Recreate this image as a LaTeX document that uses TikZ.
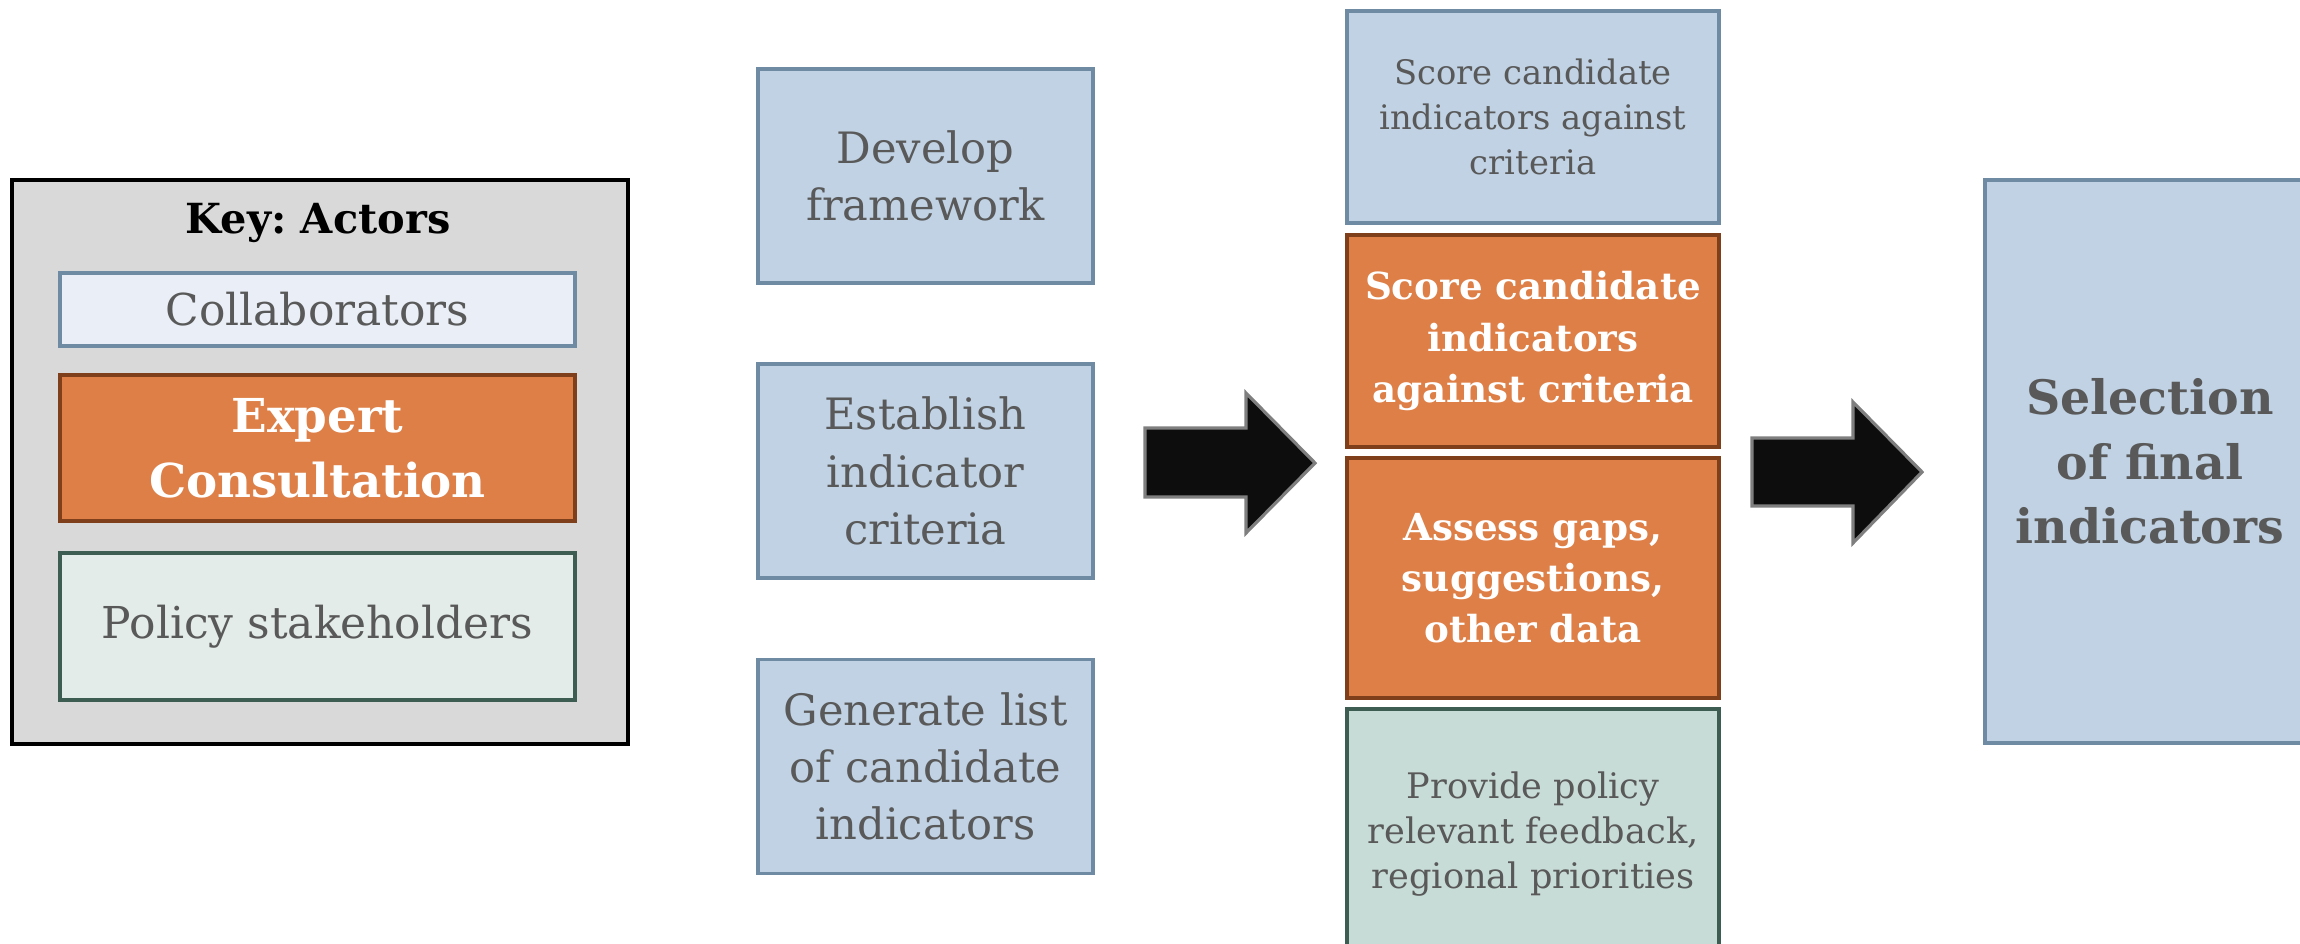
\documentclass[tikz,border=0pt]{standalone}
\usepackage{fontspec}
\setmainfont{DejaVu Serif}
\usetikzlibrary{positioning}

\definecolor{txtgray}{HTML}{595959}
\definecolor{bluefill}{HTML}{C0D2E3}
\definecolor{blueline}{HTML}{6F8BA3}
\definecolor{palefill}{HTML}{EAEFF7}
\definecolor{orangefill}{HTML}{DD7F47}
\definecolor{orangeline}{HTML}{7F3F1A}
\definecolor{greenfill}{HTML}{C8DCD7}
\definecolor{palegreen}{HTML}{E3ECE8}
\definecolor{greenline}{HTML}{3D5C52}
\definecolor{keyfill}{HTML}{D9D9D9}
\definecolor{arrowfill}{HTML}{0D0D0D}
\definecolor{arrowline}{HTML}{7F7F7F}

\begin{document}
\begin{tikzpicture}[
    box/.style={draw, line width=0.9pt, align=center, inner sep=0pt, text=txtgray},
    stepblue/.style={box, fill=bluefill, draw=blueline, minimum width=3.35cm, minimum height=2.14cm,
        font=\fontsize{12.3}{16.3}\selectfont},
    smallblue/.style={box, fill=bluefill, draw=blueline, minimum width=3.72cm,
        font=\fontsize{9.6}{12.8}\selectfont},
    expertbox/.style={box, fill=orangefill, draw=orangeline, text=white, minimum width=3.72cm,
        font=\fontsize{10.6}{14.6}\selectfont\bfseries},
    policybox/.style={box, fill=greenfill, draw=greenline, minimum width=3.72cm,
        font=\fontsize{10}{12.8}\selectfont},
    keyitem/.style={box, minimum width=5.15cm, font=\fontsize{12.5}{16.3}\selectfont},
    blockarrow/.style={fill=arrowfill, draw=arrowline, line width=0.9pt, line join=miter}
]
\useasboundingbox (0,0) rectangle (23,-9.43);

% Key of the actors
\node[draw=black, line width=1.2pt, fill=keyfill, minimum width=6.16cm, minimum height=5.64cm]
    (key) at (3.20,-4.62) {};
\node[font=\fontsize{11.8}{15.6}\selectfont\bfseries] (keytitle) at (3.18,-2.23) {Key:\ Actors};
\node[keyitem, fill=palefill, draw=blueline, minimum height=0.73cm] (collab) at (3.175,-3.095) {Collaborators};
\node[keyitem, fill=orangefill, draw=orangeline, text=white, minimum height=1.46cm,
    font=\fontsize{13.3}{18.4}\selectfont\bfseries] (expert) at (3.175,-4.48) {Expert\\Consultation};
\node[keyitem, fill=palegreen, draw=greenline, minimum height=1.47cm] (policy) at (3.175,-6.265) {Policy stakeholders};

% First column: preparation steps
\node[stepblue] (develop) at (9.255,-1.76) {Develop\\framework};
\node[stepblue] (establish) at (9.255,-4.71) {Establish\\indicator\\criteria};
\node[stepblue] (generate) at (9.255,-7.665) {Generate list\\of candidate\\indicators};

% Second column: scoring by the actors
\node[smallblue, minimum height=2.12cm] (scoreblue) at (15.33,-1.17) {Score candidate\\indicators against\\criteria};
\node[expertbox, minimum height=2.12cm] (scoreexp) at (15.33,-3.41) {Score candidate\\indicators\\against criteria};
\node[expertbox, minimum height=2.40cm] (assess) at (15.33,-5.78) {Assess gaps,\\suggestions,\\other data};
\node[policybox, minimum height=2.51cm] (provide) at (15.33,-8.345) {Provide policy\\relevant feedback,\\regional priorities};

% Final step
\node[box, fill=bluefill, draw=blueline, minimum width=3.30cm, minimum height=5.63cm,
    font=\fontsize{13.5}{18.4}\selectfont\bfseries] (selection) at (21.5,-4.615) {Selection\\of final\\indicators};

% Block arrows between the columns
\draw[blockarrow] (11.45,-4.28) -- (12.46,-4.28) -- (12.46,-3.93) -- (13.15,-4.63)
    -- (12.46,-5.33) -- (12.46,-4.97) -- (11.45,-4.97) -- cycle;
\draw[blockarrow] (17.52,-4.38) -- (18.53,-4.38) -- (18.53,-4.02) -- (19.22,-4.72)
    -- (18.53,-5.43) -- (18.53,-5.06) -- (17.52,-5.06) -- cycle;
\end{tikzpicture}
\end{document}
